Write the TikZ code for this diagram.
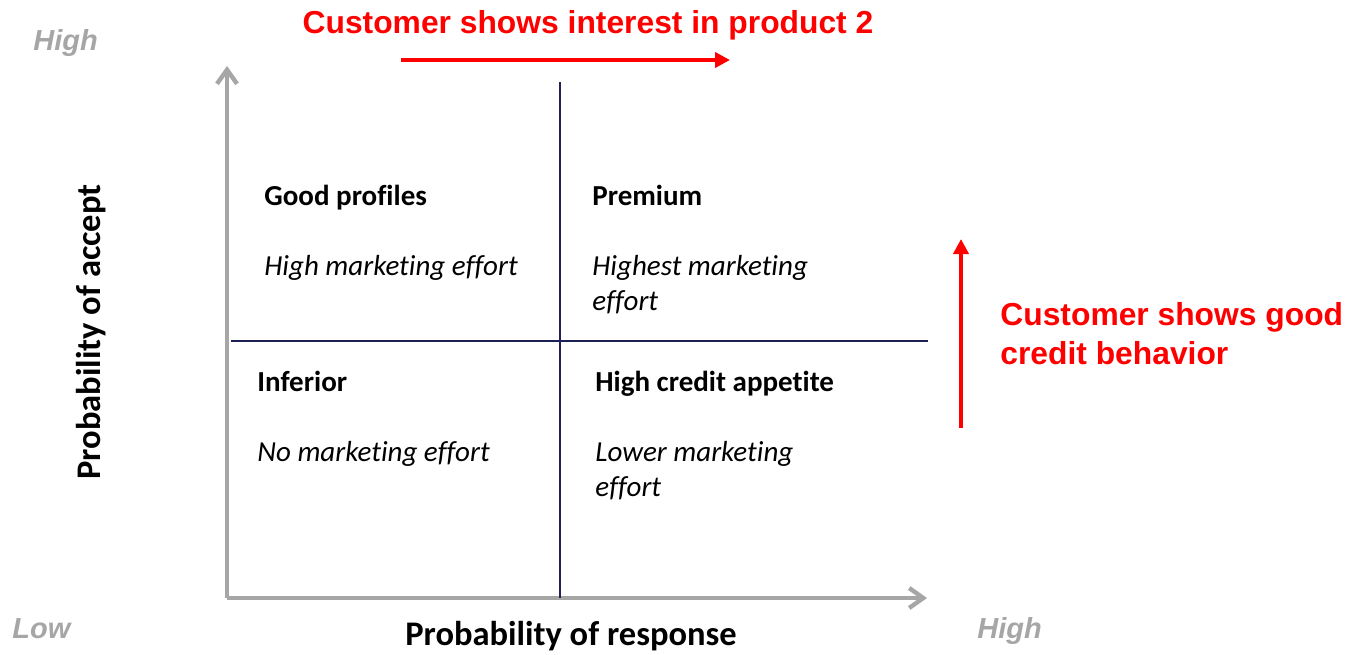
\documentclass[tikz,border=0pt]{standalone}
\usepackage{fontspec}
\setmainfont[Ligatures=NoCommon]{Carlito}
\newfontfamily\arialfont{Liberation Sans}
\usepackage{tikz}
\usetikzlibrary{positioning,arrows.meta}

\definecolor{axgrey}{HTML}{A6A6A6}
\definecolor{divnavy}{HTML}{1F2054}
\definecolor{cuered}{HTML}{FF0000}

\begin{document}
\begin{tikzpicture}[
  x=0.5pt, y=-0.5pt,
  ax/.style={draw=axgrey, line width=2.2pt, -{Straight Barb[length=7pt,width=10pt]}},
  divl/.style={draw=divnavy, line width=1.3pt},
  cuearr/.style={draw=cuered, line width=2pt, -{Triangle[length=7.5pt,width=7.5pt]}},
  txt/.style={inner sep=0pt, anchor=base west, align=left},
  qhead/.style={txt, font=\fontsize{14.5}{17.5}\selectfont\bfseries},
  qnote/.style={txt, font=\fontsize{14.5}{17.5}\selectfont\itshape},
  ttl/.style={inner sep=0pt, anchor=base, font=\fontsize{17.25}{20}\selectfont\bfseries},
  cue/.style={txt, text=cuered, font=\arialfont\fontsize{15.9}{19.5}\selectfont\bfseries},
  lvl/.style={txt, text=axgrey, font=\arialfont\fontsize{14.5}{17}\selectfont\bfseries\itshape}]

  % axes
  \coordinate (o) at (227,598);
  \coordinate (ytip) at (227,66);
  \coordinate (xtip) at (927,598);
  \draw[ax] (o) -- (ytip);
  \draw[ax] (o) -- (xtip);

  % quadrant dividers
  \coordinate (vtop) at (560,82);
  \coordinate (vbot) at (560,598);
  \coordinate (hleft) at (231,341);
  \coordinate (hright) at (928,341);
  \draw[divl] (vtop) -- (vbot);
  \draw[divl] (hleft) -- (hright);

  % quadrants (two-line notes sit on their last baseline)
  \node[qhead] (good) at (264,205) {Good profiles};
  \node[qnote] (goodn) at (264,275) {High marketing effort};
  \node[qhead] (prem) at (592,205) {Premium};
  \node[qnote] (premn) at (592,310) {Highest marketing\\effort};
  \node[qhead] (inf) at (257,391) {Inferior};
  \node[qnote] (infn) at (257,461) {No marketing effort};
  \node[qhead] (hca) at (595,391) {High credit appetite};
  \node[qnote] (hcan) at (595,496) {Lower marketing\\effort};

  % axis titles and levels
  \node[ttl] (xttl) at (571,645) {Probability of response};
  \node[ttl, rotate=90] (yttl) at (100,332) {Probability of accept};
  \node[lvl] (yhigh) at (33,50) {High};
  \node[lvl] (xlow) at (12,638) {Low};
  \node[lvl] (xhigh) at (977,638) {High};

  % customer signals
  \node[cue, anchor=base] (intr) at (588,33) {Customer shows interest in product 2};
  \coordinate (ia) at (401,60);
  \coordinate (ib) at (730,60);
  \draw[cuearr] (ia) -- (ib);
  \node[cue] (cred) at (1000,364) {Customer shows good\\credit behavior};
  \coordinate (ca) at (961,428);
  \coordinate (cb) at (961,239);
  \draw[cuearr] (ca) -- (cb);

  \useasboundingbox (0,0) rectangle (1348,654);
\end{tikzpicture}
\end{document}
